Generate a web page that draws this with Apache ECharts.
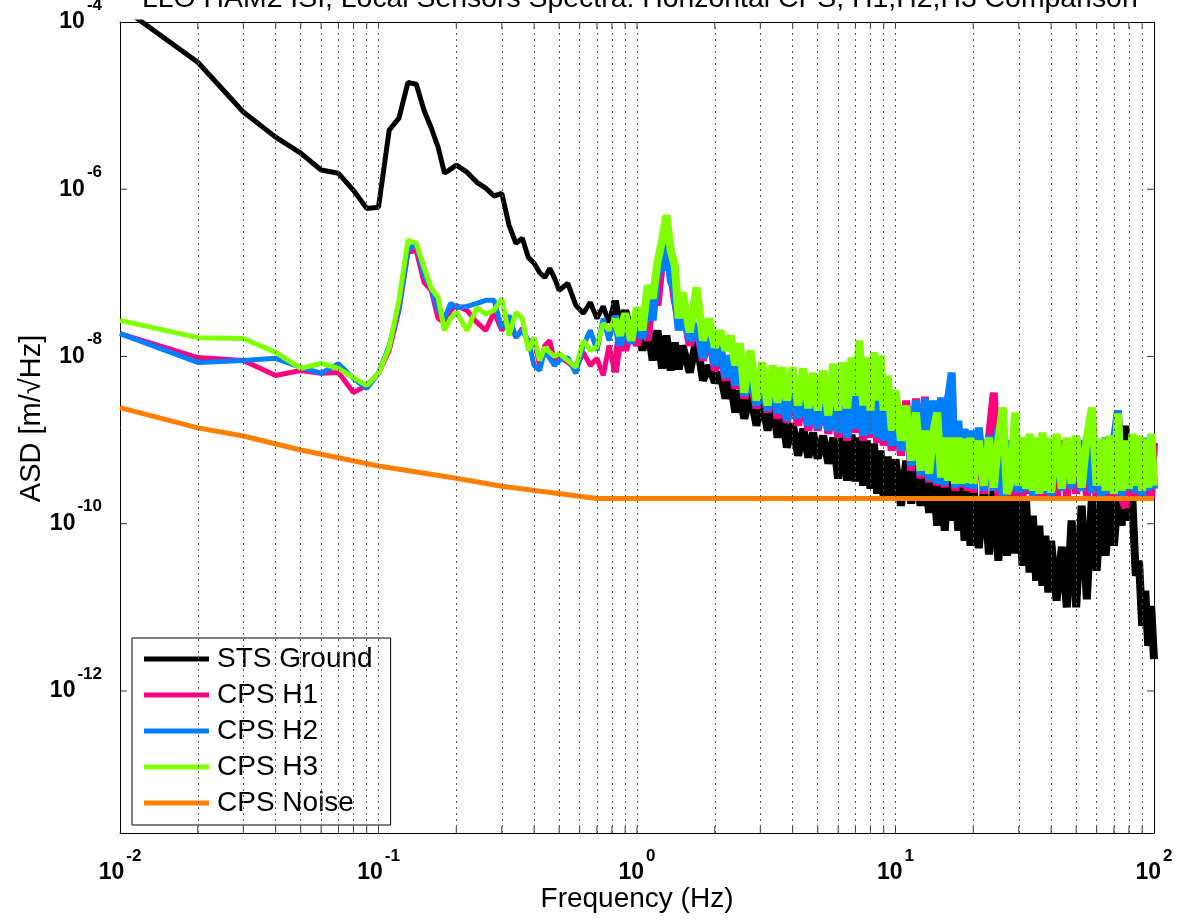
<!DOCTYPE html>
<html>
<head>
<meta charset="utf-8">
<script src="https://cdn.jsdelivr.net/npm/echarts@6/dist/echarts.min.js"></script>
<style>html,body{margin:0;padding:0;background:#fff}#c{width:1182px;height:924px}</style>
</head>
<body>
<div id="c"></div>
<script>
// ---------- DATA ----------
const TITLE = 'LLO HAM2 ISI, Local Sensors Spectra: Horizontal CPS, H1,H2,H3 Comparison';
const X_MIN = 0.01, X_MAX = 100, Y_MIN = 2e-14, Y_MAX = 1e-4;
const seriesNames = ['STS Ground', 'CPS H1', 'CPS H2', 'CPS H3', 'CPS Noise'];

const freqs = [0.01,0.02,0.03,0.04,0.05,0.06,0.07,0.08,0.09,0.1,0.11,0.12,0.13,0.14,0.15,0.16,0.17,0.18,0.19,0.2,
0.22,0.24,0.26,0.28,0.3,0.32,0.34,0.36,0.38,0.4,0.42,0.44,0.46,0.48,0.5,
0.54,0.58,0.62,0.66,0.7,0.74,0.78,0.82,0.86,0.9,0.95,1,
1.05,1.1,1.15,1.2,1.25,1.3,1.35,1.4,1.45,1.5,1.6,1.7,1.8,1.9,2,
2.1,2.2,2.3,2.4,2.5,2.6,2.75,2.9,3.05,3.2,3.35,3.5,3.65,3.8,4,4.2,4.4,4.6,4.8,5,
5.25,5.5,5.75,6,6.25,6.5,6.75,7,7.25,7.5,7.75,8,8.25,8.5,8.75,9,9.33,9.67,10,
10.5,11,11.5,12,12.5,13,13.5,14,14.5,15,15.5,16,16.5,17,17.5,18,18.5,19,19.5,20,
21,22,23,24,25,26,27,28,29,30,31,32,33,34,35,36,37,38,39,40,42,44,46,48,50,
52.5,55,57.5,60,62.5,65,67.5,70,72.5,75,77.5,80,82.5,85,87.5,90,92.5,95,97.5,100];

const stsGround = [
1.55e-4,3.3e-5,8.4e-6,4.2e-6,2.7e-6,1.7e-6,1.55e-6,9.7e-7,5.9e-7,6.1e-7,
5.1e-6,7.1e-6,1.9e-5,1.8e-5,8.8e-6,5.4e-6,3.2e-6,1.56e-6,1.74e-6,1.94e-6,
1.6e-6,1.21e-6,1.03e-6,8.3e-7,8.9e-7,3.7e-7,2.26e-7,2.6e-7,1.53e-7,1.3e-7,
1.01e-7,8.8e-8,1.13e-7,8.6e-8,6.17e-8,7.5e-8,4.08e-8,3.28e-8,4.44e-8,2.85e-8,
3.97e-8,2.55e-8,4.69e-8,2.05e-8,3.56e-8,1.78e-8,2.85e-8,1.18e-8,2.35e-8,8.96e-9,
2.05e-8,7.19e-9,1.78e-8,6.8e-9,1.47e-8,7.0e-9,1.35e-8,6.43e-9,1.64e-8,5.16e-9,
7.8e-9,4.88e-9,6.43e-9,3.14e-9,5.16e-9,2.14e-9,3.92e-9,1.81e-9,3.5e-9,1.49e-9,
3.23e-9,1.3e-9,2.97e-9,1.07e-9,2.14e-9,8.13e-10,1.58e-9,6.52e-10,1.37e-9,6.17e-10,
1.23e-9,6.0e-10,1.13e-9,5.23e-10,1.07e-9,3.46e-10,1.19e-9,3.27e-10,1.16e-9,3.2e-10,
1.07e-9,2.85e-10,9.86e-10,2.62e-10,9.08e-10,2.28e-10,7.49e-10,2.04e-10,6.34e-10,1.89e-10,
5.9e-10,1.64e-10,5.68e-10,1.74e-10,5.1e-10,1.64e-10,4.08e-10,1.35e-10,3.76e-10,9.46e-11,
3.56e-10,8.24e-11,3.46e-10,1.09e-10,3.27e-10,8.24e-11,3.1e-10,6.25e-11,2.95e-10,5.45e-11,
2.9e-10,5.1e-11,2.75e-10,4.3e-11,2.75e-10,3.61e-11,2.75e-10,4.14e-11,2.48e-10,4.4e-11,
2.16e-10,3.14e-11,1.89e-10,2.6e-11,1.25e-10,2.08e-11,9.46e-11,1.81e-11,7.18e-11,1.5e-11,
6.25e-11,1.2e-11,5.3e-11,1.0e-11,1.09e-10,1.0e-11,1.64e-10,1.25e-11,2.04e-10,2.74e-11,
2.1e-10,4.14e-11,2.1e-10,5.45e-11,2.3e-10,9.46e-11,1.49e-9,1.09e-10,1.89e-10,2.38e-11,
3.61e-11,6.0e-12,1.58e-11,3.46e-12,1.04e-11,2.4e-12];

const cpsH1 = [
1.88e-8,9.7e-9,8.96e-9,5.92e-9,6.8e-9,6.3e-9,6.43e-9,3.7e-9,4.5e-9,6.3e-9,
1.18e-8,3.56e-8,1.76e-7,1.86e-7,7.7e-8,6.17e-8,2.85e-8,2.55e-8,3.56e-8,4.08e-8,
3.56e-8,2.55e-8,2.05e-8,3.37e-8,2.05e-8,2.85e-8,1.68e-8,2.17e-8,1.43e-8,1.64e-8,
7.8e-9,1.35e-8,1.55e-8,8.48e-9,1.0e-8,8.48e-9,7.2e-9,1.12e-8,7.8e-9,9.5e-9,
5.92e-9,1.35e-8,6.43e-9,1.94e-8,1.18e-8,2.35e-8,1.35e-8,2.85e-8,1.55e-8,6.17e-8,
4.08e-8,1.41e-7,2.9e-7,1.07e-7,4.69e-8,2.7e-8,4.08e-8,1.35e-8,2.35e-8,8.96e-9,
1.94e-8,6.8e-9,1.24e-8,5.16e-9,9.5e-9,4.14e-9,7.2e-9,3.14e-9,5.92e-9,2.4e-9,
5.16e-9,2.14e-9,4.5e-9,1.81e-9,4.14e-9,1.62e-9,3.7e-9,1.49e-9,3.41e-9,1.3e-9,
3.14e-9,1.3e-9,3.14e-9,1.19e-9,2.97e-9,1.07e-9,2.97e-9,9.86e-10,3.41e-9,1.23e-9,
4.5e-9,9.86e-10,3.92e-9,1.07e-9,5.16e-9,9.3e-10,3.41e-9,8.59e-10,2.59e-9,7.49e-10,
2.14e-9,6.52e-10,2.97e-9,4.31e-10,3.14e-9,3.46e-10,3.3e-9,3.1e-10,2.8e-9,2.85e-10,
2.97e-9,2.7e-10,3.14e-9,5.16e-9,2.48e-10,1.49e-9,2.7e-10,1.3e-9,2.48e-10,1.23e-9,
2.35e-10,1.3e-9,2.28e-10,1.07e-9,3.7e-9,2.16e-10,1.13e-9,1.89e-10,9.86e-10,2.16e-10,
9.3e-10,2.04e-10,9.86e-10,2.28e-10,9.3e-10,2.0e-10,9.86e-10,2.16e-10,9.3e-10,2.04e-10,
9.3e-10,2.0e-10,9.86e-10,2.16e-10,9.3e-10,2.28e-10,9.86e-10,2.16e-10,9.86e-10,2.04e-10,
9.3e-10,2.0e-10,9.86e-10,2.16e-10,2.26e-9,2.04e-10,1.55e-10,9.3e-10,2.16e-10,9.86e-10,
2.04e-10,9.3e-10,2.16e-10,9.86e-10,2.04e-10,9.3e-10];

const cpsH2 = [
1.88e-8,8.48e-9,8.96e-9,9.5e-9,7.4e-9,6.3e-9,8.2e-9,5.45e-9,4.14e-9,6.3e-9,
1.35e-8,3.86e-8,1.86e-7,2.26e-7,9.33e-8,6.52e-8,3.56e-8,2.85e-8,4.31e-8,3.86e-8,
3.97e-8,4.31e-8,4.69e-8,4.69e-8,2.17e-8,3.1e-8,1.68e-8,2.05e-8,1.55e-8,7.8e-9,
6.8e-9,1.18e-8,9.5e-9,7.8e-9,8.96e-9,9.7e-9,6.3e-9,1.35e-8,2.05e-8,1.18e-8,
2.85e-8,1.55e-8,3.1e-8,1.35e-8,2.7e-8,1.43e-8,3.1e-8,1.64e-8,4.69e-8,2.7e-8,
1.13e-7,1.07e-7,3.2e-7,8.13e-8,6.17e-8,2.05e-8,4.08e-8,1.55e-8,2.48e-8,9.5e-9,
2.05e-8,7.8e-9,1.35e-8,5.6e-9,1.03e-8,4.5e-9,7.8e-9,3.41e-9,6.4e-9,2.59e-9,
5.45e-9,2.26e-9,4.88e-9,2.08e-9,4.5e-9,1.71e-9,3.92e-9,1.81e-9,3.7e-9,1.49e-9,
3.41e-9,1.37e-9,3.41e-9,1.3e-9,3.41e-9,1.23e-9,3.14e-9,1.07e-9,3.7e-9,1.37e-9,
5.16e-9,1.13e-9,4.14e-9,1.19e-9,6.4e-9,1.07e-9,3.7e-9,9.86e-10,2.97e-9,8.59e-10,
2.26e-9,7.49e-10,2.59e-9,4.95e-10,2.97e-9,3.76e-10,3.14e-9,3.27e-10,2.97e-9,3.01e-10,
3.23e-9,2.85e-10,3.23e-9,6.4e-9,2.7e-10,1.71e-9,2.85e-10,1.37e-9,2.7e-10,1.3e-9,
2.62e-10,1.41e-9,2.48e-10,1.13e-9,2.48e-10,1.37e-9,2.16e-10,9.86e-10,2.48e-10,9.86e-10,
2.35e-10,1.07e-9,2.48e-10,9.86e-10,2.16e-10,1.04e-9,2.35e-10,9.86e-10,2.28e-10,9.86e-10,
2.16e-10,1.07e-9,2.48e-10,9.86e-10,2.62e-10,1.04e-9,2.48e-10,1.07e-9,2.35e-10,9.86e-10,
2.16e-10,1.07e-9,2.28e-10,9.86e-10,2.26e-9,2.16e-10,9.86e-10,2.48e-10,1.07e-9,2.35e-10,
9.86e-10,2.16e-10,1.07e-9,2.48e-10,9.86e-10,2.62e-10];

const cpsH3 = [
2.7e-8,1.68e-8,1.64e-8,1.12e-8,7.2e-9,8.25e-9,7.2e-9,5.6e-9,4.5e-9,6.26e-9,
1.28e-8,4.69e-8,2.45e-7,2.26e-7,1.16e-7,6.52e-8,5.09e-8,2.05e-8,2.85e-8,3.37e-8,
2.05e-8,3.86e-8,3.19e-8,3.56e-8,4.95e-8,1.78e-8,3.37e-8,2.85e-8,1.18e-8,1.68e-8,
8.96e-9,1.28e-8,1.12e-8,1.0e-8,1.09e-8,8.96e-9,7.4e-9,1.55e-8,1.18e-8,1.31e-8,
2.48e-8,2.05e-8,2.85e-8,1.78e-8,3.28e-8,1.55e-8,3.86e-8,2.05e-8,7.09e-8,4.95e-8,
1.33e-7,2.45e-7,4.88e-7,1.86e-7,1.23e-7,2.85e-8,5.84e-8,1.94e-8,6.7e-8,1.55e-8,
2.85e-8,1.28e-8,2.05e-8,1.18e-8,1.78e-8,7.8e-9,1.43e-8,3.7e-9,1.18e-8,2.97e-9,
8.5e-9,2.59e-9,7.8e-9,2.8e-9,7.4e-9,2.97e-9,7.4e-9,2.59e-9,7.2e-9,2.4e-9,
6.4e-9,2.26e-9,6.8e-9,1.97e-9,8.2e-9,2.26e-9,8.5e-9,2.4e-9,9.7e-9,3.41e-9,
1.55e-8,2.59e-9,9.7e-9,2.26e-9,1.12e-8,2.97e-9,1.03e-8,2.26e-9,5.92e-9,1.3e-9,
3.92e-9,9.86e-10,2.59e-9,5.68e-10,2.14e-9,4.31e-10,1.3e-9,3.97e-10,1.23e-9,2.14e-9,
3.56e-10,1.07e-9,3.27e-10,1.07e-9,3.01e-10,1.07e-9,3.01e-10,1.04e-9,3.1e-10,1.07e-9,
3.01e-10,9.86e-10,2.85e-10,1.07e-9,2.7e-10,9.86e-10,2.45e-9,2.28e-10,3.27e-10,2.14e-9,
2.85e-10,1.07e-9,2.62e-10,1.19e-9,2.48e-10,1.07e-9,2.28e-10,1.23e-9,2.48e-10,1.07e-9,
2.35e-10,1.19e-9,2.62e-10,1.07e-9,3.01e-10,1.13e-9,2.7e-10,1.07e-9,2.45e-9,2.85e-10,
1.04e-9,2.48e-10,1.13e-9,2.28e-10,2.08e-9,2.48e-10,9.86e-10,2.62e-10,1.19e-9,2.85e-10,
1.13e-9,2.48e-10,1.04e-9,2.7e-10,1.19e-9,2.85e-10];

const noiseFreqs = [0.01,0.02,0.03,0.05,0.1,0.2,0.3,0.7,100];
const cpsNoise = [2.45e-9,1.4e-9,1.12e-9,7.6e-10,4.9e-10,3.5e-10,2.8e-10,2.0e-10,2.0e-10];

// tick / grid positions
const xTicks = [0.02,0.03,0.04,0.05,0.06,0.07,0.08,0.09,0.1,0.2,0.3,0.4,0.5,0.6,0.7,0.8,0.9,1,
  2,3,4,5,6,7,8,9,10,20,30,40,50,60,70,80,90];
const yTicks = [1e-12,1e-10,1e-8,1e-6];
const NOISY_FROM = 0.82;   // above this frequency the spectra form dense noisy bands

// ---------- CHART ----------
const SANS = "'Liberation Sans', Arial, Helvetica, sans-serif";
const colors = ['#000000', '#ff0080', '#0080ff', '#80ff00', '#ff8000'];
const tickRich = {
  b: {fontSize: 23, fontWeight: 'bold', fontFamily: SANS, color: '#000', lineHeight: 23, verticalAlign: 'middle'},
  e: {fontSize: 17, fontWeight: 'bold', fontFamily: SANS, color: '#000', lineHeight: 17, padding: [0,0,34,2], verticalAlign: 'middle'}
};
function powLabel(v, evenOnly) {
  const l = Math.log10(v), e = Math.round(l);
  if (Math.abs(l - e) > 1e-6) return '';
  if (evenOnly && e % 2 !== 0) return '';
  return '{b|10}{e|' + e + '}';
}
const pair = (xs, ys) => xs.map((x, i) => [x, ys[i]]);
const seriesValues = [stsGround, cpsH1, cpsH2, cpsH3];
const splitIdx = freqs.indexOf(NOISY_FROM);

const dataSeries = [];
seriesValues.forEach((vals, k) => {
  const pts = pair(freqs, vals);
  const base = {name: seriesNames[k], type: 'line', showSymbol: false, symbol: 'none', clip: true, z: 3,
    itemStyle: {color: colors[k]}};
  dataSeries.push(Object.assign({}, base, {data: pts.slice(0, splitIdx + 1),
    lineStyle: {width: 5, color: colors[k], join: 'bevel'}}));
  dataSeries.push(Object.assign({}, base, {data: pts.slice(splitIdx),
    lineStyle: {width: 8, color: colors[k], join: 'bevel'}}));
});
dataSeries.push({
  name: seriesNames[4], type: 'line', data: pair(noiseFreqs, cpsNoise),
  showSymbol: false, symbol: 'none', clip: true, z: 3,
  lineStyle: {width: 5, color: colors[4]}, itemStyle: {color: colors[4]}
});

const gridSeries = {
  type: 'line', data: [], silent: true, z: 1,
  markLine: {
    silent: true, symbol: ['none','none'], animation: false, label: {show: false},
    lineStyle: {color: '#555', type: [2,4], width: 1},
    data: xTicks.map(f => ({xAxis: f})).concat(yTicks.map(v => ({yAxis: v})))
  }
};
const tickBase = {type: 'scatter', silent: true, symbol: 'rect', itemStyle: {color: '#000'}, z: 4, animation: false};
const tickSeries = [
  Object.assign({}, tickBase, {symbolSize: [1,7], symbolOffset: [0,-3.5], data: xTicks.map(f => [f, Y_MIN])}),
  Object.assign({}, tickBase, {symbolSize: [1,7], symbolOffset: [0,3.5], data: xTicks.map(f => [f, Y_MAX])}),
  Object.assign({}, tickBase, {symbolSize: [7,1], symbolOffset: [3.5,0], data: yTicks.map(v => [X_MIN, v])}),
  Object.assign({}, tickBase, {symbolSize: [7,1], symbolOffset: [-3.5,0], data: yTicks.map(v => [X_MAX, v])})
];

const axisLineBlack = {show: true, lineStyle: {color: '#000', width: 1}};
const chart = echarts.init(document.getElementById('c'), null, {renderer: 'canvas'});
chart.setOption({
  animation: false,
  backgroundColor: '#fff',
  title: {text: TITLE, left: 142, top: -15, padding: 0,
    textStyle: {fontSize: 28.4, fontWeight: 'normal', fontFamily: SANS, color: '#000'}},
  grid: {left: 120, right: 28, top: 22, bottom: 91, containLabel: false, outerBoundsMode: 'none'},
  legend: {
    data: seriesNames, orient: 'vertical', left: 132, top: 638,
    icon: 'rect', itemWidth: 65, itemHeight: 5, itemGap: 8,
    padding: [7, 18, 8, 12], borderColor: '#000', borderWidth: 1, backgroundColor: '#fff',
    textStyle: {fontSize: 28, fontFamily: SANS, color: '#000', padding: [0,0,0,3]},
    selectedMode: false
  },
  xAxis: [
    {type: 'log', logBase: 10, min: X_MIN, max: X_MAX, position: 'bottom',
     name: 'Frequency (Hz)', nameLocation: 'middle', nameGap: 52, nameMoveOverlap: false,
     nameTextStyle: {fontSize: 28, fontFamily: SANS, color: '#000'},
     axisLine: axisLineBlack, axisTick: {show: false}, splitLine: {show: false}, minorTick: {show: false},
     axisLabel: {margin: 40, verticalAlign: 'middle', formatter: v => powLabel(v, false), rich: tickRich,
       showMinLabel: true, showMaxLabel: true}},
    {type: 'log', logBase: 10, min: X_MIN, max: X_MAX, position: 'top',
     axisLine: axisLineBlack, axisTick: {show: false}, splitLine: {show: false}, axisLabel: {show: false}}
  ],
  yAxis: [
    {type: 'log', logBase: 10, min: Y_MIN, max: Y_MAX, position: 'left',
     name: 'ASD [m/√Hz]', nameLocation: 'middle', nameGap: 74, nameRotate: 90, nameMoveOverlap: false,
     nameTextStyle: {fontSize: 29, fontFamily: SANS, color: '#000', padding: [0,0,0,18]},
     axisLine: axisLineBlack, axisTick: {show: false}, splitLine: {show: false},
     axisLabel: {margin: 18, verticalAlign: 'middle', formatter: v => powLabel(v, true), rich: tickRich,
       showMinLabel: false, showMaxLabel: true}},
    {type: 'log', logBase: 10, min: Y_MIN, max: Y_MAX, position: 'right',
     axisLine: axisLineBlack, axisTick: {show: false}, splitLine: {show: false}, axisLabel: {show: false}}
  ],
  series: [gridSeries].concat(dataSeries, tickSeries)
});
</script>
</body>
</html>
